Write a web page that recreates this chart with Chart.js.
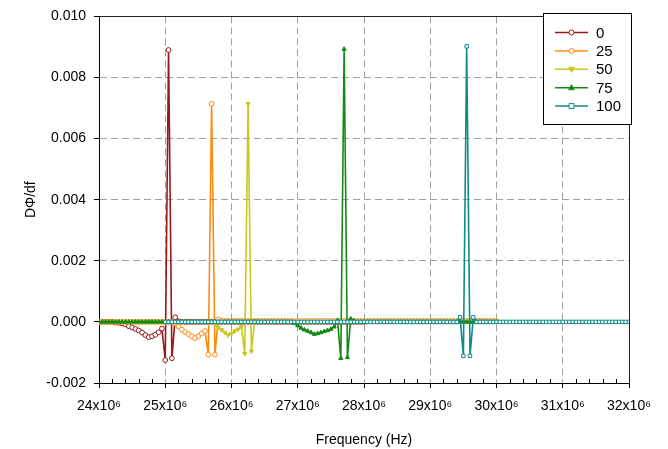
<!DOCTYPE html>
<html>
<head>
<meta charset="utf-8">
<script src="https://cdn.jsdelivr.net/npm/chart.js@4.4.0/dist/chart.umd.min.js"></script>
<style>
    html, body { margin: 0; padding: 0; background: #fff; }
    #wrap { width: 668px; height: 449px; }
</style>
</head>
<body>
<div id="wrap"><canvas id="myChart" width="668" height="449"></canvas></div>
<script>
// Series labels (legend)
const seriesLabels = ['0', '25', '50', '75', '100'];

// Frequency grid: values are read every 0.05 MHz, starting at the given frequency (MHz)
const freqStep = 0.05;
const start0 = 24.0, start25 = 24.0, start50 = 24.0, start75 = 24.0, start100 = 25.0;

// DΦ/df values
const values0 = [
    0, 0, 0, 0, 0, -0.00002, -0.00003, -0.00005, -0.00008,
    -0.00014, -0.00018, -0.00023, -0.00028, -0.00035, -0.00043, -0.00050, -0.00047, -0.00042, -0.00034, -0.00022,
    -0.00125, 0.0089, -0.00119, 0.00015, 0.00002,
    0, 0, 0, 0, 0, 0, 0, 0, 0, 0,
    0, 0, 0, 0, 0, 0, 0, 0, 0, 0,
    0, 0, 0, 0, 0, 0, 0, 0, 0, 0,
    0, 0, 0, 0, 0, 0, 0, 0, 0, 0,
    0, 0, 0, 0, 0, 0, 0, 0, 0, 0,
    0, 0, 0, 0, 0, 0
];
const values25 = [
    0, 0, 0, 0, 0, 0, 0, 0, 0, 0,
    0, 0, 0, 0, 0, 0, 0, 0, 0, 0,
    0, 0, 0,
    -0.00005, -0.00015, -0.00025, -0.00033, -0.00040, -0.00047, -0.00053, -0.00047, -0.00038, -0.00030,
    -0.00107, 0.00714, -0.00107, 0.00008, 0.00004,
    0.00003, 0.00003, 0.00003, 0.00003, 0.00003, 0.00003, 0.00003, 0.00003, 0.00003, 0.00003,
    0.00003, 0.00003, 0.00003, 0.00003, 0.00003, 0.00003, 0.00003, 0.00003, 0.00003, 0.00003,
    0.00003, 0.00003, 0.00003, 0.00003, 0.00003, 0.00003, 0.00003, 0.00003, 0.00003, 0.00003,
    0.00003, 0.00003, 0.00003, 0.00003, 0.00003, 0.00003, 0.00003, 0.00003, 0.00003, 0.00003,
    0.00003, 0.00003, 0.00003, 0.00003, 0.00003, 0.00003, 0.00003, 0.00003, 0.00003, 0.00003,
    0.00003, 0.00003, 0.00003, 0.00003, 0.00003, 0.00003, 0.00003, 0.00003, 0.00003, 0.00003,
    0.00003, 0.00003, 0.00003, 0.00003, 0.00003, 0.00003, 0.00003, 0.00003, 0.00003, 0.00003,
    0.00003, 0.00003, 0.00003, 0.00003, 0.00003, 0.00003, 0.00003, 0.00003, 0.00003, 0.00003,
    0.00003, 0.00003, 0.00003
];
const values50 = [
    0, 0, 0, 0, 0, 0, 0, 0, 0, 0,
    0, 0, 0, 0, 0, 0, 0, 0, 0, 0,
    0, 0, 0, 0, 0, 0, 0, 0, 0, 0,
    0, 0, 0, 0, 0,
    -0.00008, -0.00018, -0.00026, -0.00035, -0.00043, -0.00038, -0.00030, -0.00024, -0.00016,
    -0.00104, 0.00714, -0.00096, 0.00005, 0.00002,
    0, 0, 0, 0, 0, 0, 0, 0, 0, 0,
    0, 0, 0, 0, 0, 0, 0, 0, 0, 0,
    0, 0, 0, 0, 0, 0, 0, 0, 0, 0,
    0, 0, 0, 0, 0, 0, 0, 0, 0, 0,
    0, 0, 0, 0, 0, 0, 0, 0, 0, 0,
    0, 0, 0, 0, 0, 0, 0, 0, 0, 0,
    0, 0, 0, 0, 0, 0, 0, 0, 0, 0,
    0, 0
];
const values75 = [
    0, 0, 0, 0, 0, 0, 0, 0, 0, 0,
    0, 0, 0, 0, 0, 0, 0, 0, 0, 0,
    0, 0, 0, 0, 0, 0, 0, 0, 0, 0,
    0, 0, 0, 0, 0, 0, 0, 0, 0, 0,
    0, 0, 0, 0, 0, 0, 0, 0, 0, 0,
    0, 0, 0, 0, 0, 0, 0, 0, 0,
    -0.00005, -0.00012, -0.00020, -0.00026, -0.00030, -0.00035, -0.00040, -0.00038, -0.00035, -0.00031,
    -0.00028, -0.00024, -0.00016, 0.00005,
    -0.00119, 0.00893, -0.00116, 0.00010, 0.00003,
    0, 0, 0, 0, 0, 0, 0, 0, 0, 0,
    0, 0, 0, 0, 0, 0, 0, 0, 0, 0,
    0, 0, 0, 0, 0, 0, 0, 0, 0, 0,
    0, 0, 0, 0, 0, 0, 0, 0, 0, 0,
    0, 0, 0
];
const values100 = [
    0, 0, 0, 0, 0, 0, 0, 0, 0, 0,
    0, 0, 0, 0, 0, 0, 0, 0, 0, 0,
    0, 0, 0, 0, 0, 0, 0, 0, 0, 0,
    0, 0, 0, 0, 0, 0, 0, 0, 0, 0,
    0, 0, 0, 0, 0, 0, 0, 0, 0, 0,
    0, 0, 0, 0, 0, 0, 0, 0, 0, 0,
    0, 0, 0, 0, 0, 0, 0, 0, 0, 0,
    0, 0, 0, 0, 0, 0, 0, 0, 0, 0,
    0, 0, 0, 0, 0, 0, 0, 0, 0,
    0.00015, -0.00111, 0.00902, -0.00111, 0.00015,
    0, 0, 0, 0, 0, 0, 0, 0, 0, 0,
    0, 0, 0, 0, 0, 0, 0, 0, 0, 0,
    0, 0, 0, 0, 0, 0, 0, 0, 0, 0,
    0, 0, 0, 0, 0, 0, 0, 0, 0, 0,
    0, 0, 0, 0, 0, 0, 0
];

// Axis ticks (MHz on x, shown as "x10⁶")
const xTicks = [24, 25, 26, 27, 28, 29, 30, 31, 32];
const yTicks = [-0.002, 0, 0.002, 0.004, 0.006, 0.008, 0.010];

const FONT = '"Liberation Sans", Arial, sans-serif';

function toPoints(start, values) {
    return values.map((v, i) => ({ x: +(start + i * freqStep).toFixed(2), y: v }));
}

// Series styles: colour, marker, hollow or filled
const styles = [
    { color: '#9a1818', point: 'circle', rot: 0, hollow: true },
    { color: '#ff8a10', point: 'circle', rot: 0, hollow: true },
    { color: '#c8c81e', point: 'triangle', rot: 180, hollow: false },
    { color: '#148a14', point: 'triangle', rot: 0, hollow: false },
    { color: '#118a8a', point: 'rect', rot: 0, hollow: true }
];

const allValues = [values0, values25, values50, values75, values100];
const allStarts = [start0, start25, start50, start75, start100];

const datasets = allValues.map((vals, i) => ({
    label: seriesLabels[i],
    data: toPoints(allStarts[i], vals),
    borderColor: styles[i].color,
    backgroundColor: styles[i].color,
    borderWidth: 1.6,
    pointStyle: styles[i].point,
    rotation: styles[i].rot,
    pointRadius: 2.4,
    pointBorderWidth: 1,
    pointBackgroundColor: styles[i].hollow ? '#ffffff' : styles[i].color,
    pointBorderColor: styles[i].color,
    tension: 0,
    order: 4 - i // 100 on top
}));

// Draw one legend marker
function drawMarker(ctx, st, x, y, r) {
    ctx.beginPath();
    if (st.point === 'circle') {
        ctx.arc(x, y, r, 0, Math.PI * 2);
    } else if (st.point === 'rect') {
        ctx.rect(x - r, y - r, r * 2, r * 2);
    } else {
        const s = st.rot === 180 ? -1 : 1;
        ctx.moveTo(x, y - s * r * 1.2);
        ctx.lineTo(x - r * 1.1, y + s * r * 0.8);
        ctx.lineTo(x + r * 1.1, y + s * r * 0.8);
        ctx.closePath();
    }
    ctx.fillStyle = st.hollow ? '#fff' : st.color;
    ctx.fill();
    ctx.strokeStyle = st.color;
    ctx.lineWidth = 1;
    ctx.stroke();
}

// Frame (top/right), minor x ticks and the boxed legend
const framePlugin = {
    id: 'framePlugin',
    afterDraw(chart) {
        const ctx = chart.ctx;
        const a = chart.chartArea;
        const xs = chart.scales.x;
        ctx.save();
        ctx.strokeStyle = '#222';
        ctx.lineWidth = 1;
        ctx.beginPath();
        ctx.moveTo(a.left, Math.round(a.top) + 0.5);
        ctx.lineTo(a.right, Math.round(a.top) + 0.5);
        ctx.moveTo(Math.round(a.right) + 0.5, a.top);
        ctx.lineTo(Math.round(a.right) + 0.5, a.bottom);
        ctx.stroke();

        // minor ticks, pointing up from the x axis
        ctx.strokeStyle = '#000';
        ctx.beginPath();
        for (let m = 24; m < 32; m++) {
            for (let k = 1; k < 5; k++) {
                const px = Math.round(xs.getPixelForValue(m + k * 0.2)) + 0.5;
                ctx.moveTo(px, a.bottom);
                ctx.lineTo(px, a.bottom - 4);
            }
        }
        ctx.stroke();

        // legend box
        const bx = 543.5, by = 13.5, bw = 88, bh = 111;
        ctx.fillStyle = '#fff';
        ctx.fillRect(bx, by, bw, bh);
        ctx.strokeStyle = '#000';
        ctx.strokeRect(bx, by, bw, bh);
        ctx.font = '15px ' + FONT;
        ctx.textBaseline = 'middle';
        ctx.textAlign = 'left';
        chart.data.datasets.forEach((ds, i) => {
            const y = 32.5 + i * 18.4;
            ctx.strokeStyle = styles[i].color;
            ctx.lineWidth = 1.5;
            ctx.beginPath();
            ctx.moveTo(555, y);
            ctx.lineTo(588, y);
            ctx.stroke();
            drawMarker(ctx, styles[i], 571.5, y, 2.5);
            ctx.fillStyle = '#000';
            ctx.fillText(ds.label, 596, y + 1);
        });
        ctx.restore();
    }
};

const ctx = document.getElementById('myChart').getContext('2d');
new Chart(ctx, {
    type: 'line',
    data: { datasets: datasets },
    options: {
        responsive: false,
        animation: false,
        devicePixelRatio: 1,
        layout: { padding: { top: 13, right: 39, left: 0, bottom: 0 } },
        plugins: {
            legend: { display: false },
            tooltip: { enabled: false }
        },
        scales: {
            x: {
                type: 'linear',
                min: 24,
                max: 32,
                afterBuildTicks: (scale) => { scale.ticks = xTicks.map(v => ({ value: v })); },
                afterFit: (scale) => { scale.height = 66; },
                ticks: {
                    autoSkip: false,
                    maxRotation: 0,
                    padding: 10,
                    color: '#000',
                    font: { family: FONT, size: 14 },
                    callback: (v) => v + 'x10\u2076'
                },
                grid: { color: '#a0a0a0', lineWidth: 1, tickLength: 5, tickColor: '#000', tickWidth: 1 },
                border: { display: true, color: '#000', width: 1, dash: [7, 4] },
                title: {
                    display: true,
                    text: 'Frequency (Hz)',
                    color: '#000',
                    font: { family: FONT, size: 14 },
                    padding: { top: 0, bottom: 0 }
                }
            },
            y: {
                type: 'linear',
                min: -0.002,
                max: 0.010,
                afterBuildTicks: (scale) => { scale.ticks = yTicks.map(v => ({ value: v })); },
                afterFit: (scale) => { scale.width = 99; },
                ticks: {
                    padding: 8,
                    color: '#000',
                    font: { family: FONT, size: 14 },
                    callback: (v) => v.toFixed(3)
                },
                grid: { color: '#a0a0a0', lineWidth: 1, tickLength: 5, tickColor: '#000', tickWidth: 1 },
                border: { display: true, color: '#000', width: 1, dash: [7, 4] },
                title: {
                    display: true,
                    text: 'D\u03A6/df',
                    color: '#000',
                    font: { family: FONT, size: 14 },
                    padding: { top: 23, bottom: 0 }
                }
            }
        }
    },
    plugins: [framePlugin]
});
</script>
</body>
</html>
